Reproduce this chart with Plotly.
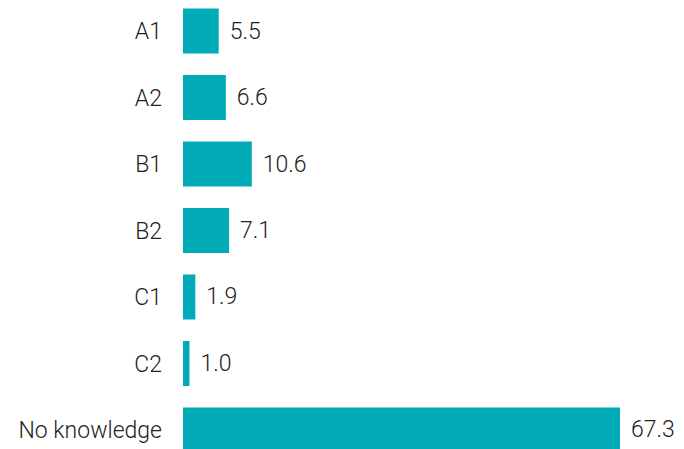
import plotly.graph_objects as go

levels = ["A1", "A2", "B1", "B2", "C1", "C2", "No knowledge"]
shares = [5.5, 6.6, 10.6, 7.1, 1.9, 1.0, 67.3]

BAR_COLOR = "#00abb7"
FONT = dict(family="Roboto", size=23, color="#222222", weight=300)

fig = go.Figure(
    go.Bar(
        x=shares,
        y=levels,
        orientation="h",
        marker=dict(color=BAR_COLOR, line=dict(width=0)),
        text=[f"{v:.1f}" for v in shares],
        texttemplate="\u00a0\u200a%{text}",
        textposition="outside",
        textfont=FONT,
        constraintext="none",
        cliponaxis=False,
        hoverinfo="skip",
    )
)

# the page body adds an 8px margin, so the figure is sized to fit inside it
fig.update_layout(
    width=676,
    height=441,
    margin=dict(l=175, r=0, t=0, b=0, autoexpand=False),
    paper_bgcolor="white",
    plot_bgcolor="white",
    bargap=0.323,
    showlegend=False,
    font=FONT,
)
fig.update_xaxes(range=[0, 77.16], visible=False, automargin=False)
fig.update_yaxes(
    categoryorder="array",
    categoryarray=levels,
    range=[6.286, -0.346],
    showgrid=False,
    showline=False,
    zeroline=False,
    ticks="",
    ticklabelstandoff=20,
    tickfont=FONT,
    automargin=False,
)

fig.write_html("out.html")
